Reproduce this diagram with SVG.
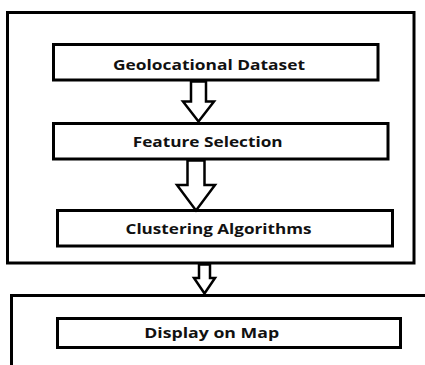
<svg xmlns="http://www.w3.org/2000/svg" width="425" height="365" viewBox="0 0 425 365">
  <style>
    .frame { fill: none; stroke: #000; stroke-width: 3; }
    .box { fill: #fff; stroke: #000; stroke-width: 3; }
    .arrow { fill: #fff; stroke: #000; stroke-width: 2.5; stroke-linejoin: miter; }
    .label { font-family: "Open Sans", "Liberation Sans", sans-serif; font-weight: 700; font-size: 14.2px; fill: #111; text-anchor: middle; }
  </style>
  <rect width="425" height="365" fill="#fff"/>
  <g id="frame-top">
    <rect class="frame" x="7.5" y="12.5" width="406.5" height="250.5"/>
  </g>
  <g id="frame-bottom">
    <path class="frame" d="M11.5,370 V295.5 H430"/>
  </g>
  <g id="node-geolocational-dataset">
    <rect class="box" x="53.5" y="44.5" width="324.5" height="35.5"/>
    <text class="label" x="209" y="70" textLength="192" lengthAdjust="spacingAndGlyphs">Geolocational Dataset</text>
  </g>
  <g id="node-feature-selection">
    <rect class="box" x="53.5" y="123.5" width="334.5" height="35.5"/>
    <text class="label" x="207.7" y="146.7" textLength="150" lengthAdjust="spacingAndGlyphs">Feature Selection</text>
  </g>
  <g id="node-clustering-algorithms">
    <rect class="box" x="57.5" y="210.5" width="335" height="35.5"/>
    <text class="label" x="218.5" y="234.3" textLength="186" lengthAdjust="spacingAndGlyphs">Clustering Algorithms</text>
  </g>
  <g id="node-display-on-map">
    <rect class="box" x="57.5" y="318.5" width="343" height="29"/>
    <text class="label" x="211.7" y="337.5" textLength="135" lengthAdjust="spacingAndGlyphs">Display on Map</text>
  </g>
  <g id="connectors">
    <polygon class="arrow" points="191,81.5 206,81.5 206,101.5 214,101.5 198.5,121.5 183,101.5 191,101.5"/>
    <polygon class="arrow" points="187.5,160.5 204.5,160.5 204.5,185 215,185 196,210.5 177,185 187.5,185"/>
    <polygon class="arrow" points="199,264.5 210,264.5 210,278 215,278 204.5,293.5 194,278 199,278"/>
  </g>
</svg>
